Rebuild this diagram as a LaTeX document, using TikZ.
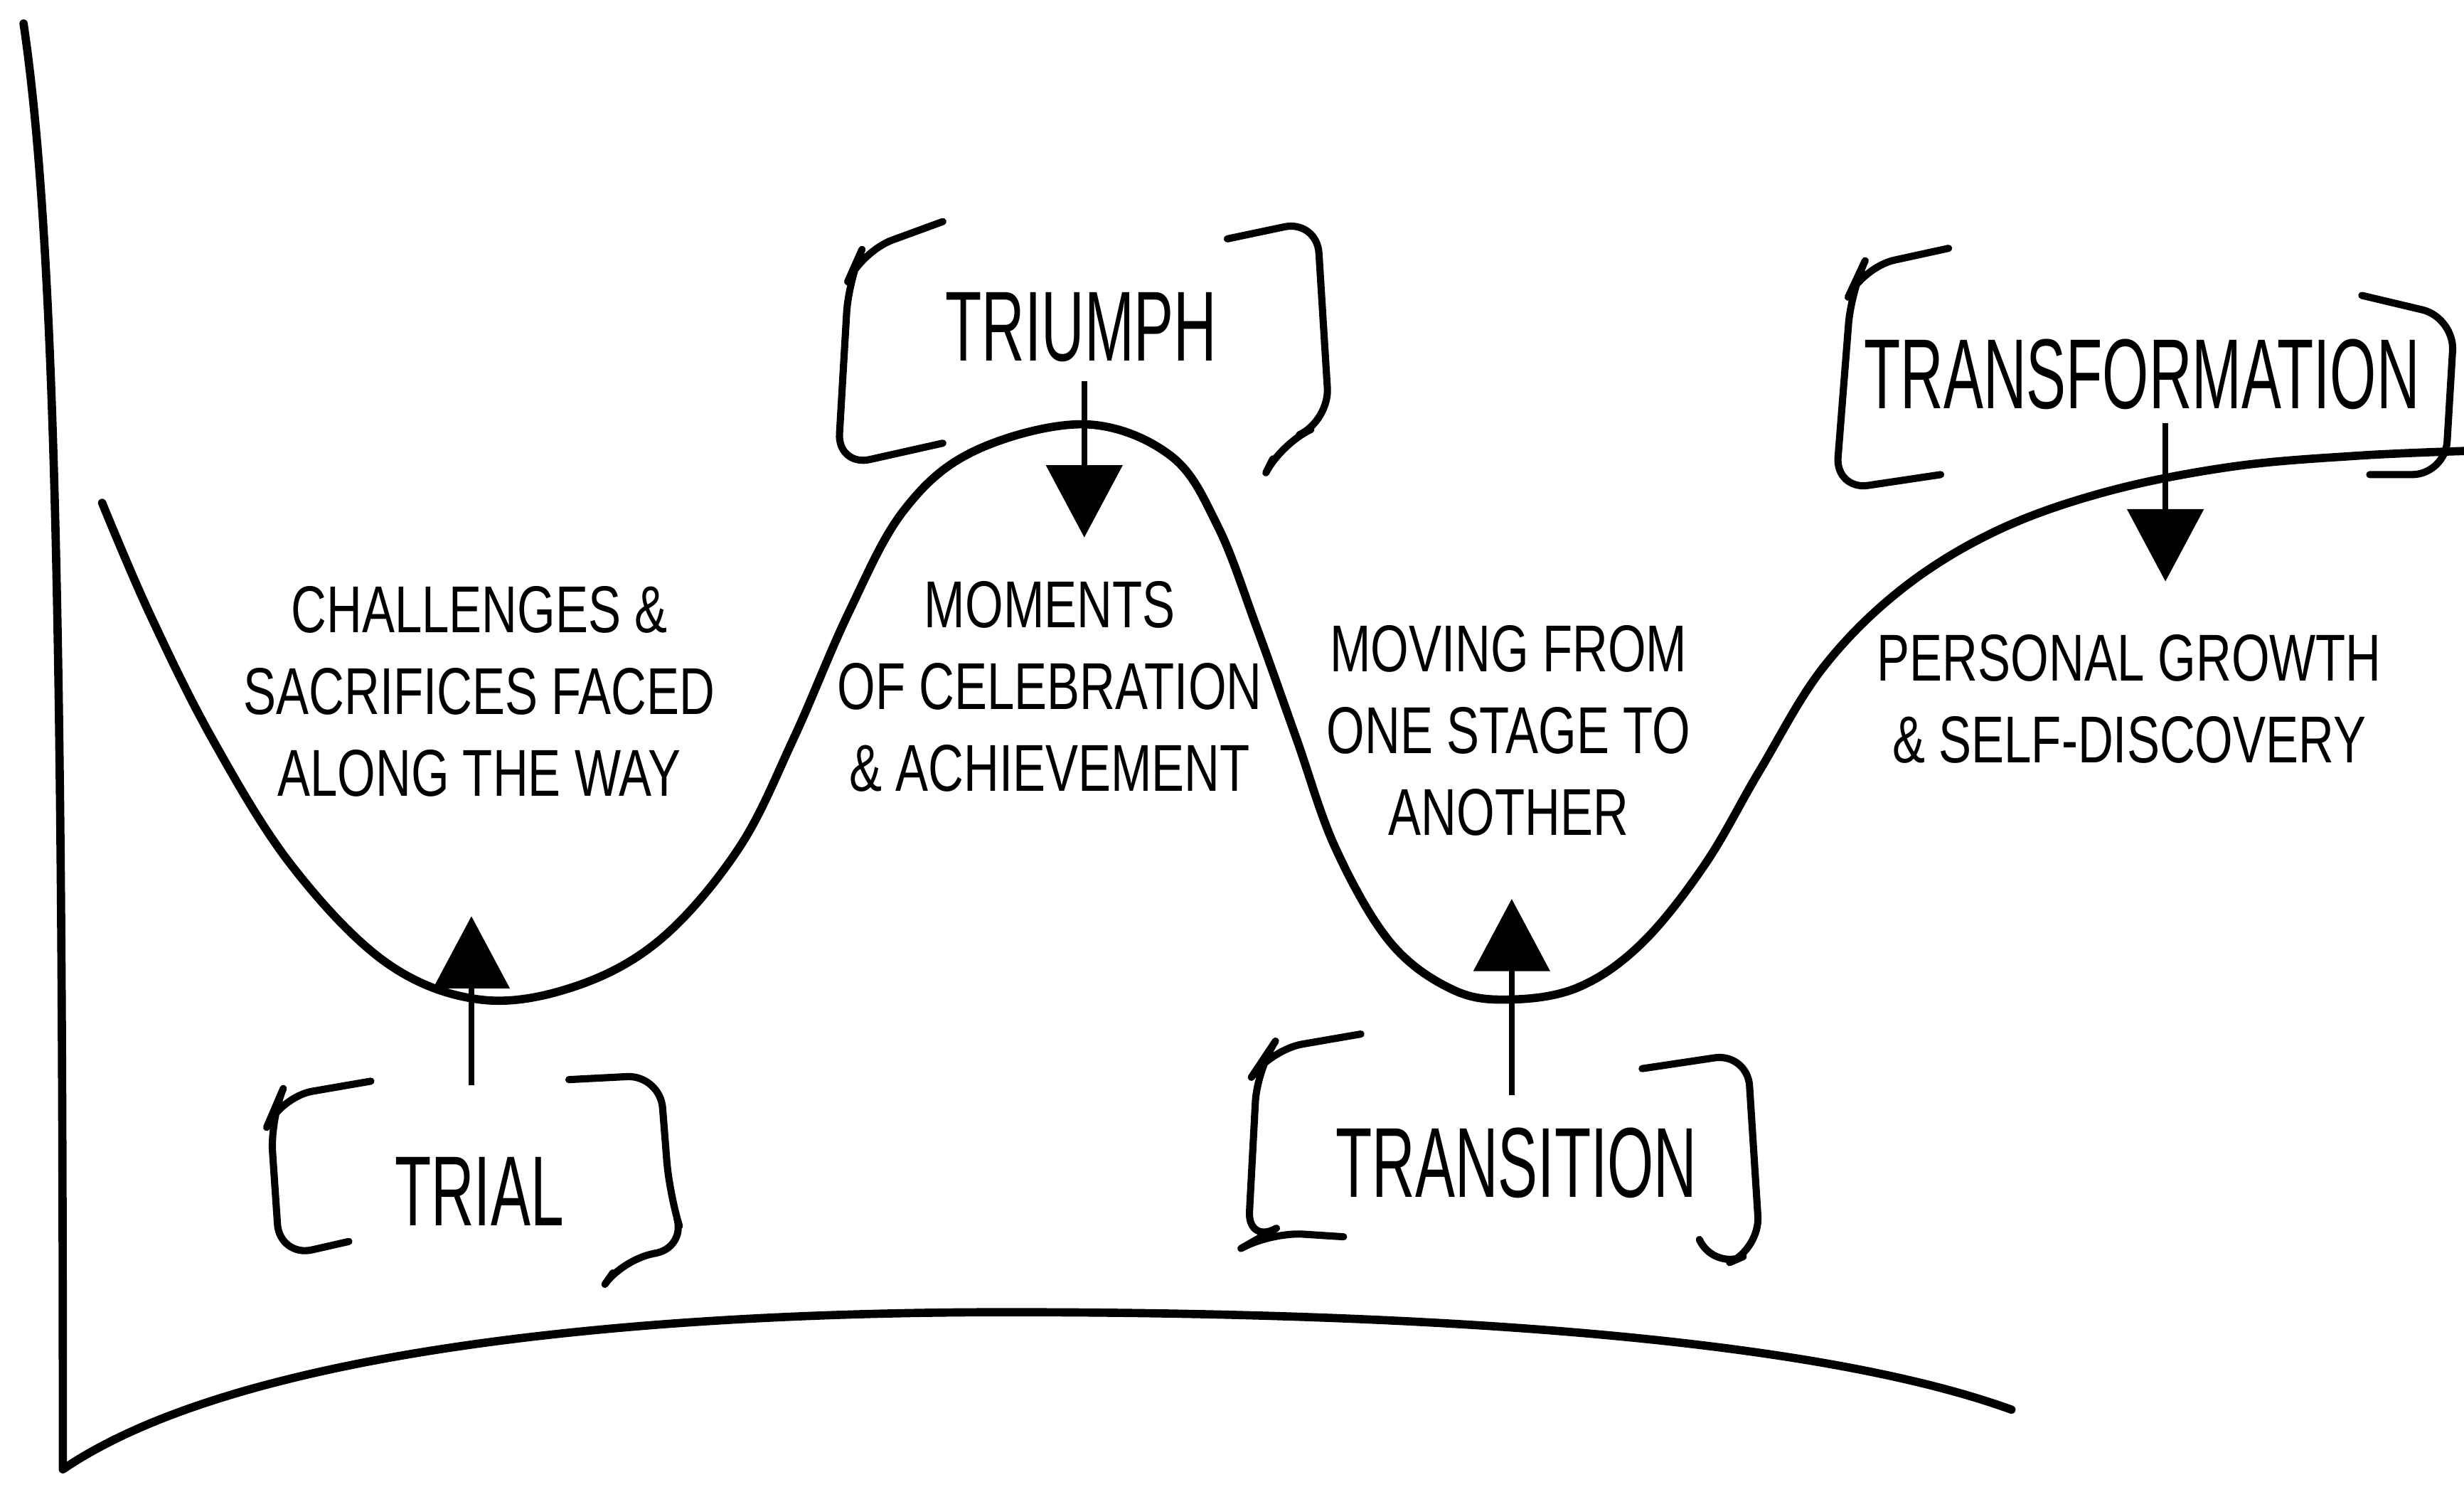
\documentclass[tikz,border=0pt]{standalone}
\usepackage{fontspec}
\usetikzlibrary{arrows.meta}
\newfontfamily\notefont[FakeStretch=0.74]{Liberation Sans}
\newfontfamily\stagefont[FakeStretch=0.6]{Liberation Sans}
\tikzset{
  pen/.style={line width=1.5pt, line cap=round, line join=round},
  bracket/.style={line width=1.3pt, line cap=round, line join=round, rounded corners=6pt},
  stage/.style={font=\stagefont\fontsize{18}{18}\selectfont, inner sep=0pt},
  note/.style={font=\notefont\fontsize{12}{14.8}\selectfont, align=center, inner sep=0pt},
  pointer/.style={line width=1.1pt, -{Triangle[width=4.8mm,length=4.6mm]}},
}
\begin{document}
\begin{tikzpicture}[x=0.1mm, y=-0.1mm]
        \useasboundingbox (0,0) rectangle (1568,946);

        % axes
        \draw[pen] (15,15) .. controls (35,150) and (40,400) .. (40,935)
            .. controls (150,860) and (400,835) .. (640,835)
            .. controls (900,835) and (1150,850) .. (1280,897);

        % the journey
        \draw[pen] plot[smooth, tension=0.6] coordinates {(65,320) (95,390) (135,470) (185,550) (245,612) (305,636) (365,628) (420,598) (470,540) (505,470) (540,390) (575,325) (620,287) (690,270) (745,290) (775,335) (800,400) (825,470) (850,540) (885,600) (925,630) (962,636) (1005,628) (1045,600) (1085,550) (1120,490) (1160,425) (1210,375) (1270,338) (1340,313) (1420,297) (1500,290) (1568,287)};

        \node[stage] (triumph) at (688,208) {TRIUMPH};
        \node[stage] (trial) at (305,758) {TRIAL};
        \node[stage] (transition) at (965,740) {TRANSITION};
        \node[stage] (transformation) at (1363,238) {TRANSFORMATION};

        \draw[bracket] (600,141) -- (548,160) -- (540,178) -- (533,297) -- (600,282);
        \draw[bracket] (781,152) -- (838,140) -- (846,268) -- (815,282) -- (810,292);
        \draw[bracket] (236,688) -- (178,698) -- (172,712) -- (178,800) -- (222,790);
        \draw[bracket] (362,687) -- (420,684) -- (426,760) -- (437,795) -- (397,800) -- (390,810);
        \draw[bracket] (866,658) -- (808,668) -- (800,680) -- (794,792) -- (808,784) -- (855,787);
        \draw[bracket] (1045,680) -- (1112,670) -- (1120,795) -- (1090,808) -- (1082,790);
        \draw[bracket] (1240,158) -- (1185,170) -- (1178,185) -- (1168,312) -- (1235,302);
        \draw[bracket] (1503,188) -- (1562,202) -- (1556,302) -- (1508,302);

        \node[note] (challenges) at (305,440) {CHALLENGES \&\\SACRIFICES FACED\\ALONG THE WAY};
        \node[note] (moments) at (668,437) {MOMENTS\\OF CELEBRATION\\\& ACHIEVEMENT};
        \node[note] (moving) at (960,465) {MOVING FROM\\ONE STAGE TO\\ANOTHER};
        \node[note] (growth) at (1355,445) {PERSONAL GROWTH\\\& SELF-DISCOVERY};

        \coordinate (peak) at (690,342);
        \coordinate (low) at (300,583);
        \coordinate (dip) at (962,572);
        \coordinate (plateau) at (1378,370);

        \draw[pointer, shorten <=1.2mm] (triumph.south -| peak) -- (peak);
        \draw[pointer, shorten <=4.5mm] (trial.north -| low) -- (low);
        \draw[pointer, shorten <=2mm] (transition.north -| dip) -- (dip);
        \draw[pointer, shorten <=0.8mm] (transformation.south -| plateau) -- (plateau);
    \end{tikzpicture}
\end{document}
